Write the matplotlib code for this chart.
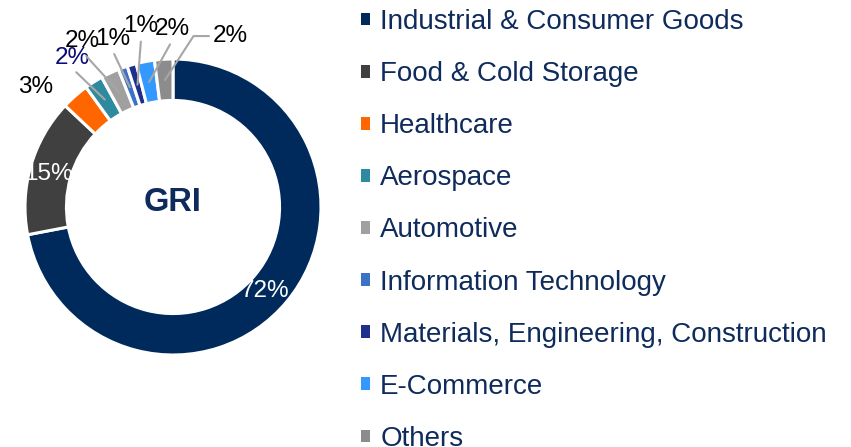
import matplotlib
matplotlib.use("Agg")
import matplotlib.pyplot as plt
from matplotlib.patches import Patch
import numpy as np

plt.rcParams['font.family'] = ['Liberation Sans', 'DejaVu Sans']

# Données
categories = ["Industrial & Consumer Goods", "Food & Cold Storage", "Healthcare",
              "Aerospace", "Automotive", "Information Technology",
              "Materials, Engineering, Construction", "E-Commerce", "Others"]
parts = [72, 15, 3, 2, 2, 1, 1, 2, 2]
couleurs = ["#002A5C", "#404040", "#FF6600", "#2E8A9E", "#A0A0A0",
            "#3A72C8", "#1F2F8C", "#3399FF", "#8C8C8C"]
titre_centre = "GRI"

# Mise en page des étiquettes (position du texte, couleur, trait de rappel)
pos_etiquettes = [(0.62, -0.57), (-0.84, 0.22), (-0.93, 0.81), (-0.68, 1.01),
                  (-0.61, 1.12), (-0.41, 1.135), (-0.215, 1.22), (-0.005, 1.20),
                  (0.39, 1.155)]
couleur_etiquettes = ["white", "white", "black", "#0A0A7A", "black",
                      "black", "black", "black", "black"]
avec_trait = [False, False, False, True, True, True, True, True, True]

navy = "#0E2B5C"
W, H = 851, 447
fig = plt.figure(figsize=(W / 100, H / 100), dpi=100)

# Anneau centré en (173, 207) px, rayon 148 px
cx, cy, R, L = 173, 207, 148, 1.35
S = 2 * L * R
ax = fig.add_axes([(cx - S / 2) / W, (H - cy - S / 2) / H, S / W, S / H])
wedges, _ = ax.pie(parts, colors=couleurs, startangle=90, counterclock=False,
                   radius=1, wedgeprops=dict(width=0.28, edgecolor="white", linewidth=2.2))
ax.set_xlim(-L, L)
ax.set_ylim(-L, L)
ax.set_aspect("equal")
ax.axis("off")

for i, (w, p, pos, col, trait) in enumerate(zip(wedges, parts, pos_etiquettes,
                                                 couleur_etiquettes, avec_trait)):
    ang = np.deg2rad((w.theta1 + w.theta2) / 2)
    xy = (0.86 * np.cos(ang), 0.86 * np.sin(ang))
    if trait:
        if i == len(parts) - 1:
            style = "angle,angleA=0,angleB=57,rad=0"
            relpos = (0, 0.5)
        else:
            style = "arc3"
            relpos = (0.5, 0)
        ax.annotate(f"{p}%", xy=xy, xytext=pos, ha="center", va="center",
                    fontsize=17.5, color=col,
                    arrowprops=dict(arrowstyle="-", color="#A6A6A6", lw=1.5,
                                    connectionstyle=style, relpos=relpos,
                                    shrinkA=1, shrinkB=0))
    else:
        ax.text(pos[0], pos[1], f"{p}%", ha="center", va="center",
                fontsize=17.5, color=col)

ax.text(0, 0.03, titre_centre, ha="center", va="center", fontsize=23.5,
        fontweight="bold", color=navy)

handles = [Patch(facecolor=c, edgecolor="none") for c in couleurs]
leg = fig.legend(handles, categories, loc="upper left",
                 bbox_to_anchor=(361 / W, 1 - 9 / H), frameon=False,
                 fontsize=20, handlelength=0.33, handleheight=0.33,
                 handletextpad=0.36, labelspacing=0.94, borderpad=0,
                 borderaxespad=0)
for t in leg.get_texts():
    t.set_color(navy)

fig.savefig("out.png", dpi=100)
